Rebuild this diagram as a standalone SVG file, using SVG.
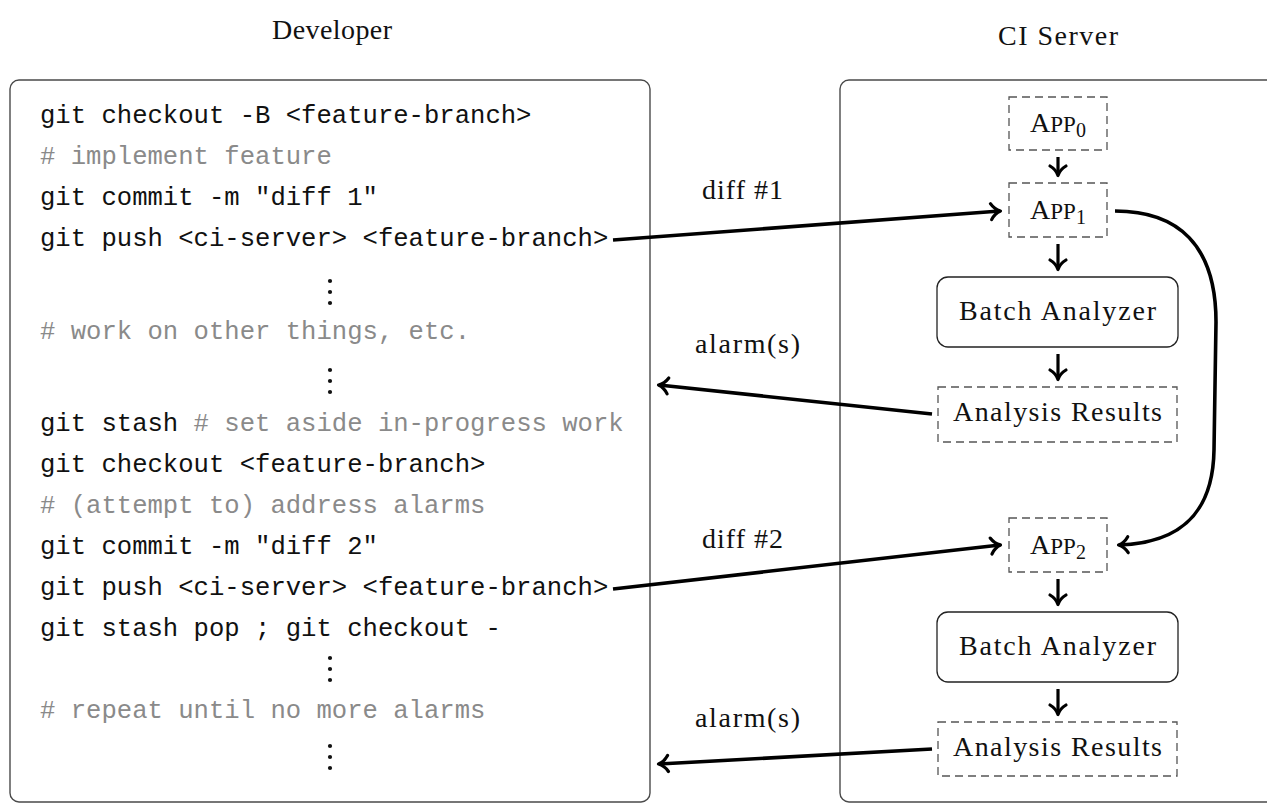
<svg xmlns="http://www.w3.org/2000/svg" width="1267" height="803" viewBox="0 0 1267 803">
  <defs>
    <style>
      .frame { fill: none; stroke: #4a4a4a; stroke-width: 1.4; }
      .code { font-family: "Liberation Mono", "DejaVu Sans Mono", monospace; font-size: 25.6px; fill: #111; }
      .cmt { fill: #8a8a8a; }
      .serif { font-family: "Liberation Serif", "DejaVu Serif", serif; font-size: 28px; fill: #111; }
      .dashed { fill: none; stroke: #555; stroke-width: 1.3; stroke-dasharray: 8 5; }
      .solid { fill: #fff; stroke: #222; stroke-width: 1.3; }
      .link { fill: none; stroke: #000; stroke-width: 3.6; marker-end: url(#tip); }
      .step { fill: none; stroke: #000; stroke-width: 3.2; marker-end: url(#tip); }
      .dot { fill: #111; }
    </style>
    <marker id="tip" markerUnits="userSpaceOnUse" markerWidth="24" markerHeight="24" viewBox="-14 -12 18 24" refX="0" refY="0" orient="auto" overflow="visible">
      <path d="M-9,-8 C-6,-3 -2,-0.8 0.5,0 C-2,0.8 -6,3 -9,8" fill="none" stroke="#000" stroke-width="3.2" stroke-linecap="round" stroke-linejoin="round"/>
    </marker>
  </defs>

  <!-- column titles -->
  <text class="serif" x="332" y="39" text-anchor="middle" textLength="120">Developer</text>
  <text class="serif" x="1058" y="45" text-anchor="middle" textLength="120">CI Server</text>

  <!-- developer panel -->
  <g id="developer">
    <rect class="frame" x="10" y="80" width="640" height="722" rx="9"/>
    <text class="code" x="40" y="123">git checkout -B &lt;feature-branch&gt;</text>
    <text class="code cmt" x="40" y="164"># implement feature</text>
    <text class="code" x="40" y="205">git commit -m "diff 1"</text>
    <text class="code" x="40" y="246">git push &lt;ci-server&gt; &lt;feature-branch&gt;</text>
    <g id="vdots-1"><circle class="dot" cx="330" cy="281" r="2.1"/><circle class="dot" cx="330" cy="292" r="2.1"/><circle class="dot" cx="330" cy="303" r="2.1"/></g>
    <text class="code cmt" x="40" y="339"># work on other things, etc.</text>
    <g id="vdots-2"><circle class="dot" cx="330" cy="370" r="2.1"/><circle class="dot" cx="330" cy="381" r="2.1"/><circle class="dot" cx="330" cy="392" r="2.1"/></g>
    <text class="code" x="40" y="431">git stash <tspan class="cmt"># set aside in-progress work</tspan></text>
    <text class="code" x="40" y="472">git checkout &lt;feature-branch&gt;</text>
    <text class="code cmt" x="40" y="513"># (attempt to) address alarms</text>
    <text class="code" x="40" y="554">git commit -m "diff 2"</text>
    <text class="code" x="40" y="595">git push &lt;ci-server&gt; &lt;feature-branch&gt;</text>
    <text class="code" x="40" y="636">git stash pop ; git checkout -</text>
    <g id="vdots-3"><circle class="dot" cx="330" cy="658" r="2.1"/><circle class="dot" cx="330" cy="669" r="2.1"/><circle class="dot" cx="330" cy="680" r="2.1"/></g>
    <text class="code cmt" x="40" y="718"># repeat until no more alarms</text>
    <g id="vdots-4"><circle class="dot" cx="330" cy="746" r="2.1"/><circle class="dot" cx="330" cy="757" r="2.1"/><circle class="dot" cx="330" cy="768" r="2.1"/></g>
  </g>

  <!-- CI server panel -->
  <g id="ci-server">
    <rect class="frame" x="840" y="80" width="460" height="722" rx="9"/>
  </g>

  <g id="app0">
    <rect class="dashed" x="1009" y="97" width="98" height="53"/>
    <text class="serif" x="1058" y="132" text-anchor="middle">A<tspan font-size="23">PP</tspan><tspan font-size="20" dy="5">0</tspan></text>
  </g>
  <g id="app1">
    <rect class="dashed" x="1009" y="183" width="98" height="54"/>
    <text class="serif" x="1058" y="219" text-anchor="middle">A<tspan font-size="23">PP</tspan><tspan font-size="20" dy="5">1</tspan></text>
  </g>
  <g id="analyzer1">
    <rect class="solid" x="937" y="277" width="241" height="70" rx="11"/>
    <text class="serif" x="1057.5" y="320" text-anchor="middle" textLength="197">Batch Analyzer</text>
  </g>
  <g id="results1">
    <rect class="dashed" x="938" y="387" width="239" height="55"/>
    <text class="serif" x="1057.5" y="421" text-anchor="middle" textLength="209">Analysis Results</text>
  </g>
  <g id="app2">
    <rect class="dashed" x="1009" y="518" width="98" height="54"/>
    <text class="serif" x="1058" y="554" text-anchor="middle">A<tspan font-size="23">PP</tspan><tspan font-size="20" dy="5">2</tspan></text>
  </g>
  <g id="analyzer2">
    <rect class="solid" x="937" y="612" width="241" height="70" rx="11"/>
    <text class="serif" x="1057.5" y="655" text-anchor="middle" textLength="197">Batch Analyzer</text>
  </g>
  <g id="results2">
    <rect class="dashed" x="938" y="722" width="239" height="54"/>
    <text class="serif" x="1057.5" y="756" text-anchor="middle" textLength="209">Analysis Results</text>
  </g>

  <!-- connectors -->
  <g id="connectors">
    <line class="step" x1="1058" y1="157" x2="1058" y2="175"/>
    <line class="step" x1="1058" y1="244" x2="1058" y2="269"/>
    <line class="step" x1="1058" y1="354" x2="1058" y2="379"/>
    <line class="step" x1="1058" y1="579" x2="1058" y2="604"/>
    <line class="step" x1="1058" y1="689" x2="1058" y2="714"/>

    <line class="link" x1="613" y1="240" x2="1000" y2="211"/>
    <line class="link" x1="932" y1="414" x2="659" y2="385"/>
    <line class="link" x1="613" y1="589" x2="1000" y2="545"/>
    <line class="link" x1="932" y1="749" x2="659" y2="764"/>
    <path class="link" d="M1115,211 C1178,211 1216,245 1216,322 L1214,450 C1213,512 1182,543 1119,545"/>

    <text class="serif" x="742.5" y="199" text-anchor="middle" textLength="81">diff #1</text>
    <text class="serif" x="747.5" y="353" text-anchor="middle" textLength="105">alarm(s)</text>
    <text class="serif" x="742.5" y="548" text-anchor="middle" textLength="81">diff #2</text>
    <text class="serif" x="747.5" y="727" text-anchor="middle" textLength="105">alarm(s)</text>
  </g>
</svg>
